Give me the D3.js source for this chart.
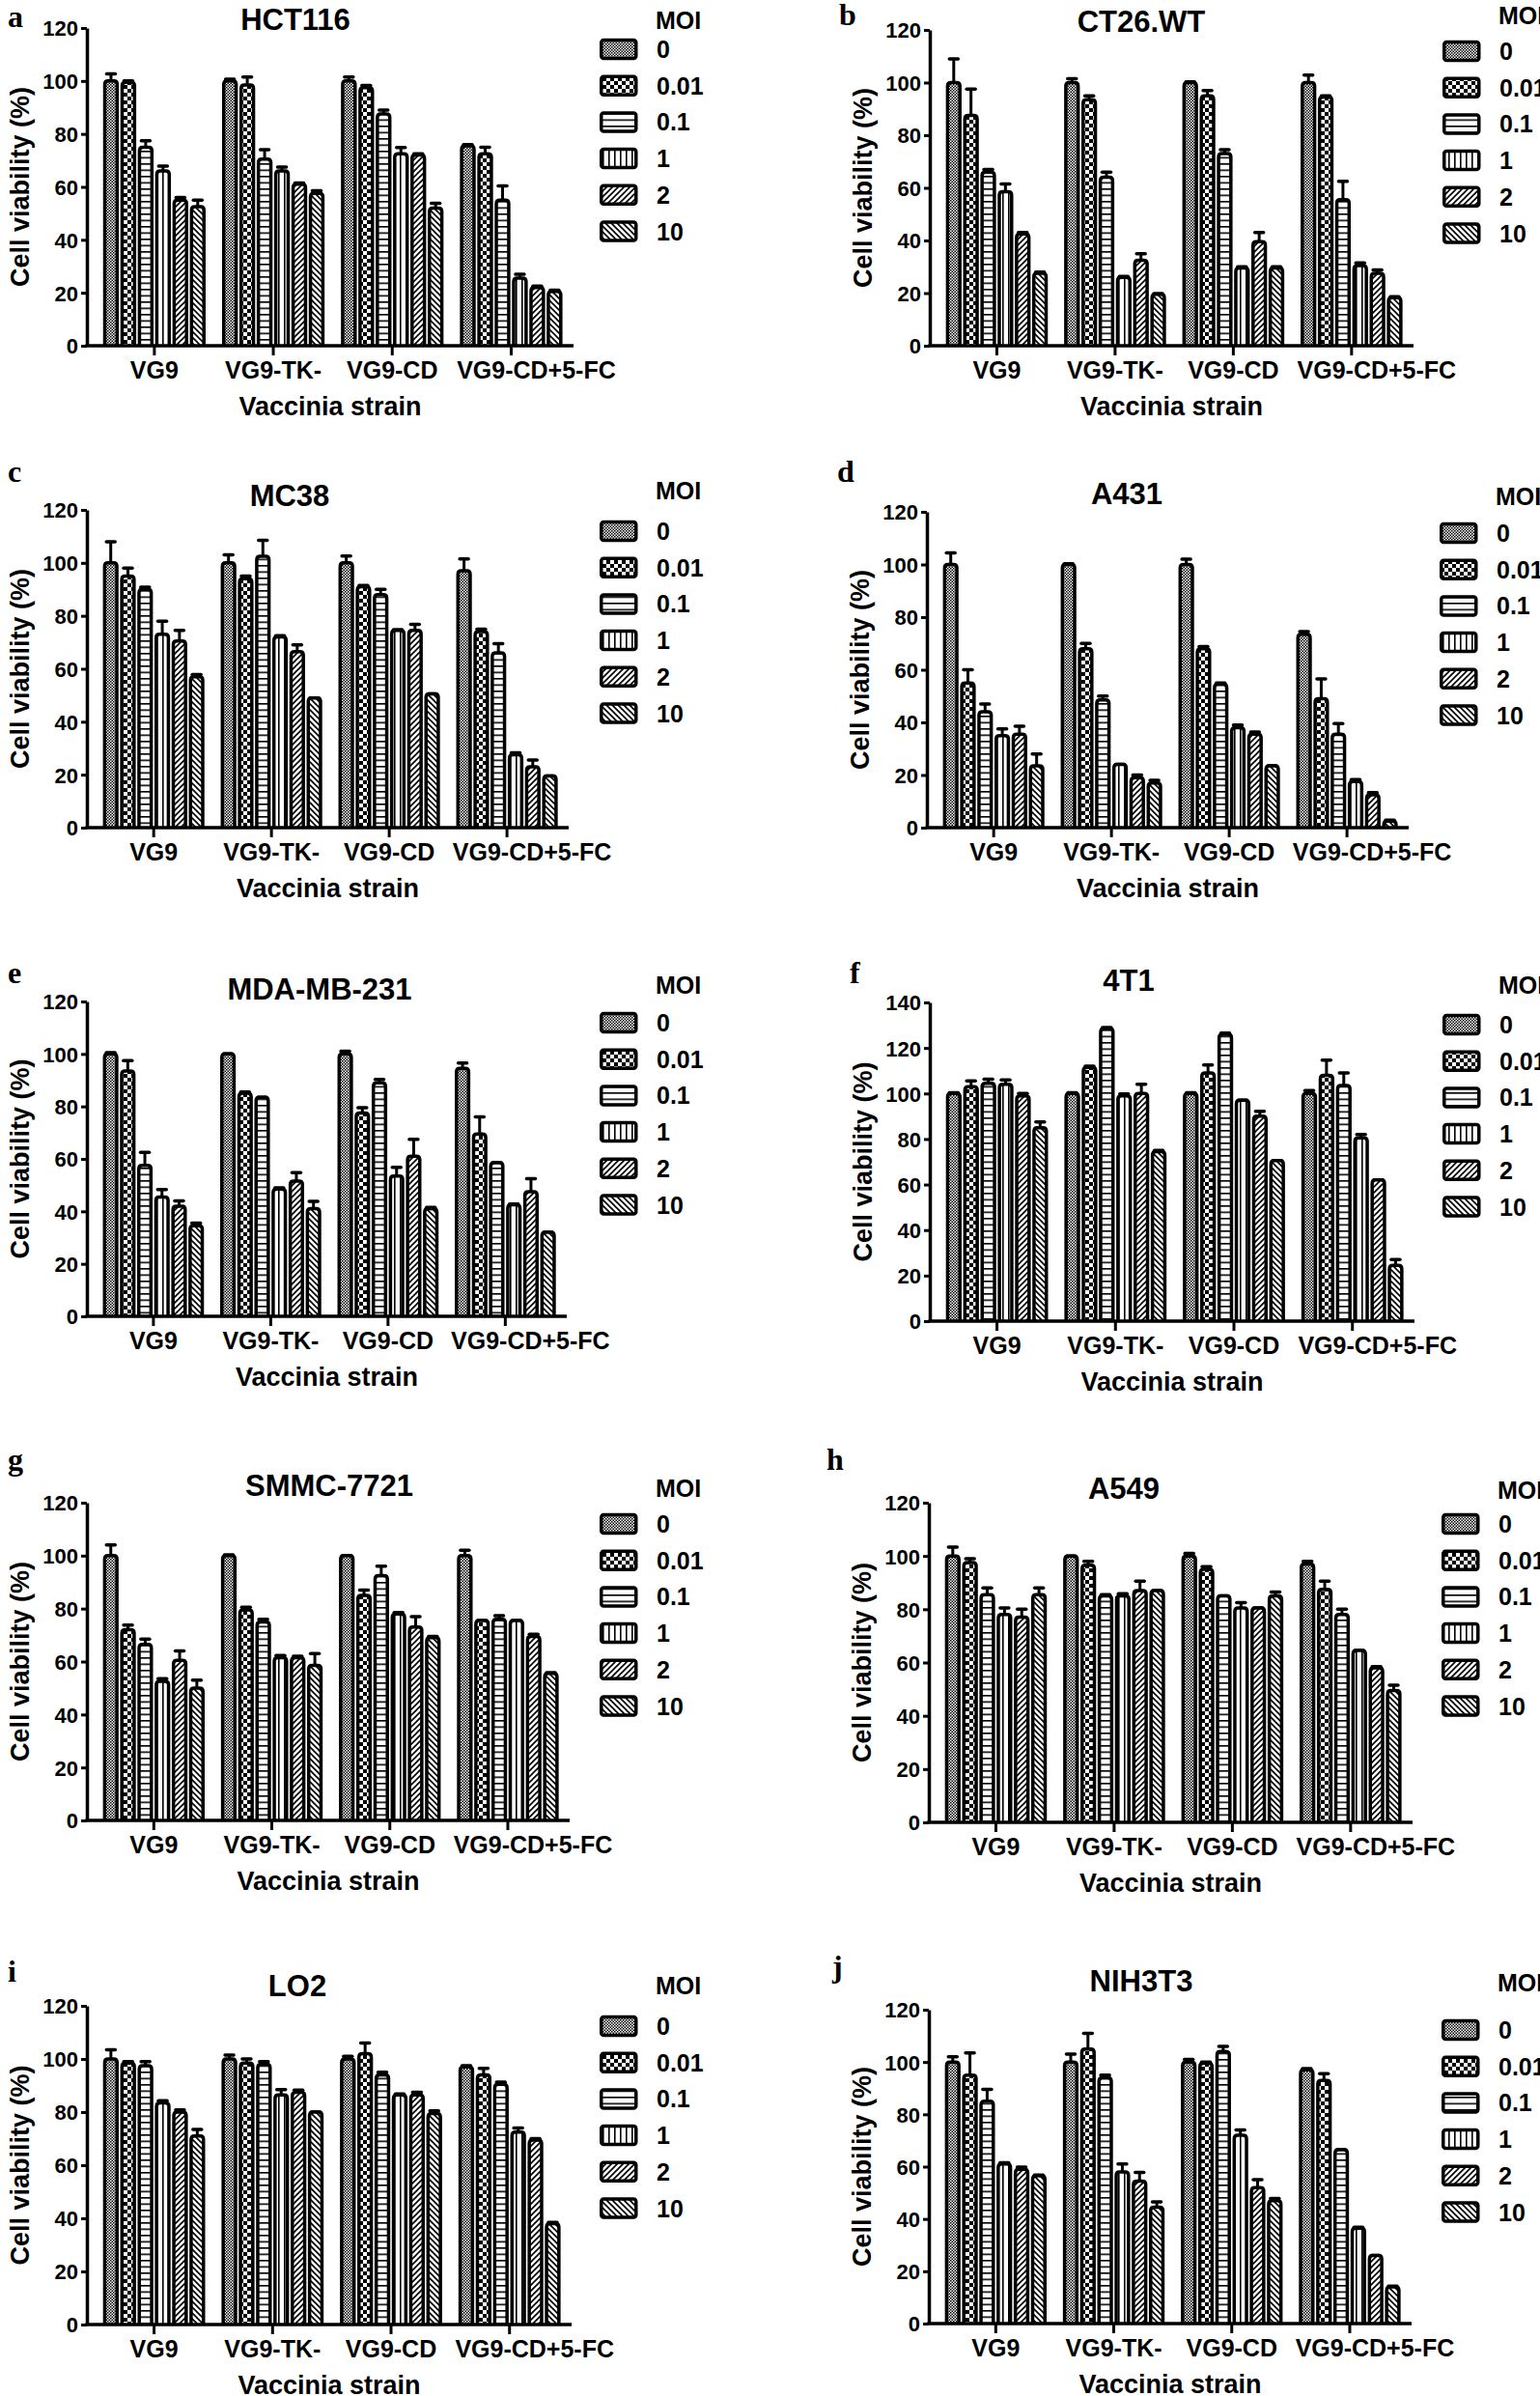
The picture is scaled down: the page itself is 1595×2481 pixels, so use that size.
<!DOCTYPE html>
<html><head><meta charset="utf-8">
<script src="https://cdn.jsdelivr.net/npm/d3@7/dist/d3.min.js"></script>
<style>
html,body{margin:0;padding:0;background:#fff;}
svg text{font-family:"Liberation Sans",Arial,sans-serif;font-weight:bold;fill:#000;}
</style></head>
<body>
<script>
// ---------- data ----------
const categories = ["VG9", "VG9-TK-", "VG9-CD", "VG9-CD+5-FC"];
const moiLevels = ["0", "0.01", "0.1", "1", "2", "10"];
const cellLines = ["HCT116", "CT26.WT", "MC38", "A431", "MDA-MB-231", "4T1", "SMMC-7721", "A549", "LO2", "NIH3T3"];
const panelLetters = ["a", "b", "c", "d", "e", "f", "g", "h", "i", "j"];
const yTicks120 = [0, 20, 40, 60, 80, 100, 120];
const yTicks140 = [0, 20, 40, 60, 80, 100, 120, 140];
const yTitle = "Cell viability (%)";
const xTitle = "Vaccinia strain";
const legendTitle = "MOI";

const hct116Mean = [[100,99.5,75,66,55,52.5],[100,98.5,70.5,66,61,57.5],[100,97.5,87.5,72.5,72,52],[75.5,72.5,55,25.5,22,20.5]];
const hct116Err  = [[2.7,0.5,2.4,1.8,1,2.5],[0.7,3,3.5,1.5,0.5,1],[1.5,0.8,1.5,2.4,0.5,1.8],[0.5,2.5,5.4,1.5,0.5,0.5]];
const ct26Mean = [[100,87.5,66,58.5,42.5,27.5],[100,93.5,64,26,32.5,19.5],[100,95,73,29.5,39.5,29.5],[100,94.5,55.5,30.5,27.5,18.3]];
const ct26Err  = [[9,10,1,3,0.5,0.5],[1.5,1.5,2,0.3,2.5,0.3],[0.3,2,1.5,0.5,3.5,0.5],[2.8,0.5,7,1,1.3,0.3]];
const mc38Mean = [[100,95,90,73,70.5,57],[100,94,102.5,72,66.5,49],[100,91,88,74.5,74.5,50.5],[97,74,66,27.5,23,19.5]];
const mc38Err  = [[8,3,0.8,5,4,0.8],[3,1,6,0.5,2.5,0],[2.6,0.5,2,0.3,2.3,0],[4.5,1,3.5,0.8,2.5,0]];
const a431Mean = [[100,55,44,35,35.5,23.5],[100,68,48.5,24,19,17],[100,68,54.5,38,35.5,23.5],[73.5,49,35.5,17.5,12.5,2.5]];
const a431Err  = [[4.4,5,3,2.5,3,4.5],[0.3,2,1.5,0,1,1],[2,0.8,0.5,1,0.8,0],[1,7.5,4,0.8,0.8,0.3]];
const mdaMean = [[100,93.5,57.5,45.5,42,34.5],[100,85,83.5,48.5,51.5,41],[100,77.5,89,53.5,61,41],[94.5,69.5,58.5,42.5,47.5,32]];
const mdaErr  = [[0.5,4,5,2.8,2,1],[0,0.5,0,0.5,3.3,2.8],[1,2,1.3,3.3,6.5,0.5],[2,6.5,0,0.3,5,0]];
const t41Mean = [[100,103,104.5,104,99,85],[100,111.5,128.5,99,100,74.5],[100,109,126,97,90,70.5],[100,108,103.5,80.5,62,24.5]];
const t41Err  = [[0.3,2.5,1.8,2,1,2.5],[0.3,0.5,0.5,0.8,4,0.5],[0.3,3.5,0.5,0,2.2,0],[1.3,6.7,5.5,1.5,0,2.5]];
const smmcMean = [[100,72,66.5,52.5,60.5,50],[100,79.5,75,61.5,61.5,58.5],[100,85,92.5,78,73,69],[100,75.5,76,75.5,69.5,55.5]];
const smmcErr  = [[4,1.8,2,1,3.5,3],[0.3,1,1,0.8,0.5,4.5],[0,2,3.5,0.5,4,0.5],[2,0,1.3,0,0.8,0.3]];
const a549Mean = [[100,97.5,85.5,78,77,85.5],[100,96.5,85,85,87,87],[100,95,85,80.5,80.5,85],[97,87.5,78,64.5,58,49.5]];
const a549Err  = [[3.3,1.5,2.5,2.5,3,2.5],[0,1.5,0.5,0.8,3.5,0],[1,1,0,2,0,1.5],[1,3,2,0,0.5,2]];
const lo2Mean = [[100,98.5,97.5,83.5,80,71],[100,98.5,98,86.5,87.5,80],[100,102,94,86.5,86.5,79.5],[97,94,90.5,72.5,69.5,38]];
const lo2Err  = [[3.5,0.5,1.5,0.8,0.8,2.5],[1.5,1.5,1,2,0.8,0],[1,4,1,0.3,1,1],[0.5,2.5,0.8,1.5,0.5,0.5]];
const nihMean = [[100,95,85,61,59,56.5],[100,105,94,58,54.5,44.5],[100,99.5,104,72,52,47],[97,93,66.5,36.5,26,14]];
const nihErr  = [[2,8.5,4.5,0.5,0.8,0.3],[3,6,1,3,3.3,2],[1,0.5,2,2,3,0.8],[0.5,2.5,0,0.3,0,0.3]];

const panelMeans = [hct116Mean, ct26Mean, mc38Mean, a431Mean, mdaMean, t41Mean, smmcMean, a549Mean, lo2Mean, nihMean];
const panelErrs  = [hct116Err, ct26Err, mc38Err, a431Err, mdaErr, t41Err, smmcErr, a549Err, lo2Err, nihErr];
const panelTicks = [yTicks120, yTicks120, yTicks120, yTicks120, yTicks120, yTicks140, yTicks120, yTicks120, yTicks120, yTicks120];

// ---------- layout (positions only) ----------
const layout = [
  {x0:90, x1:594, yTop:29,   yBot:358,  tx:306,  ty:31,   lx:8,   ly:28,   moiY:30,   row0:51},
  {x0:963,x1:1464,yTop:31,   yBot:358,  tx:1182, ty:33,   lx:869, ly:26,   moiY:25,   row0:53},
  {x0:90, x1:589, yTop:528,  yBot:857,  tx:300,  ty:524,  lx:8,   ly:499,  moiY:517,  row0:550},
  {x0:960,x1:1459,yTop:530,  yBot:857,  tx:1167, ty:522,  lx:867, ly:499,  moiY:523,  row0:552},
  {x0:90, x1:587, yTop:1037, yBot:1363, tx:331,  ty:1035, lx:8,   ly:1018, moiY:1029, row0:1059},
  {x0:963,x1:1465,yTop:1038, yBot:1368, tx:1169, ty:1026, lx:880, ly:1018, moiY:1029, row0:1061},
  {x0:90, x1:590, yTop:1556, yBot:1885, tx:341,  ty:1549, lx:8,   ly:1522, moiY:1550, row0:1578},
  {x0:962,x1:1463,yTop:1556, yBot:1887, tx:1164, ty:1552, lx:856, ly:1522, moiY:1552, row0:1578},
  {x0:90, x1:592, yTop:2077, yBot:2407, tx:308,  ty:2067, lx:8,   ly:2052, moiY:2065, row0:2098},
  {x0:962,x1:1462,yTop:2081, yBot:2406, tx:1182, ty:2062, lx:862, ly:2047, moiY:2062, row0:2102}
];
const lastLabelShift = 26;

const W = 1595, H = 2481;
const svg = d3.select("body").append("svg").attr("width", W).attr("height", H)
  .attr("viewBox", `0 0 ${W} ${H}`);
svg.append("rect").attr("width", W).attr("height", H).attr("fill", "#fff");

// ---------- patterns ----------
const defs = svg.append("defs");
function pat(id, w, h, draw) {
  const p = defs.append("pattern").attr("id", id).attr("patternUnits", "userSpaceOnUse")
    .attr("width", w).attr("height", h);
  p.append("rect").attr("width", w).attr("height", h).attr("fill", "#fff");
  draw(p);
}
pat("p0", 3, 3, p => {
  p.append("rect").attr("x",0).attr("y",0).attr("width",1.5).attr("height",1.5).attr("fill","#000");
  p.append("rect").attr("x",1.5).attr("y",1.5).attr("width",1.5).attr("height",1.5).attr("fill","#000");
});
pat("p1", 8, 8, p => {
  p.append("rect").attr("x",0).attr("y",0).attr("width",4).attr("height",4).attr("fill","#000");
  p.append("rect").attr("x",4).attr("y",4).attr("width",4).attr("height",4).attr("fill","#000");
});
pat("p2", 6, 6.5, p => {
  p.append("rect").attr("x",0).attr("y",0).attr("width",6).attr("height",1.6).attr("fill","#000");
});
pat("p3", 6, 6, p => {
  p.append("rect").attr("x",0).attr("y",0).attr("width",1.6).attr("height",6).attr("fill","#000");
});
pat("p4", 6, 6, p => {
  p.append("path").attr("d","M-1,7 L7,-1 M-4,4 L4,-4 M2,10 L10,2").attr("stroke","#000").attr("stroke-width",1.6);
});
pat("p5", 6, 6, p => {
  p.append("path").attr("d","M-1,-1 L7,7 M-4,2 L4,10 M2,-4 L10,4").attr("stroke","#000").attr("stroke-width",1.6);
});
const patIds = ["p0","p1","p2","p3","p4","p5"];

function barPath(x, w, yt, yb, r) {
  const p = d3.path();
  p.moveTo(x, yb);
  p.lineTo(x, yt + r);
  p.quadraticCurveTo(x, yt, x + r, yt);
  p.lineTo(x + w - r, yt);
  p.quadraticCurveTo(x + w, yt, x + w, yt + r);
  p.lineTo(x + w, yb);
  return p.toString();
}

// ---------- panels ----------
layout.forEach((L, pi) => {
  const g = svg.append("g");
  const ticks = panelTicks[pi];
  const yMax = ticks[ticks.length - 1];
  const y = d3.scaleLinear().domain([0, yMax]).range([L.yBot, L.yTop]);
  const x = d3.scaleBand().domain(categories).range([L.x0, L.x1])
    .paddingInner(0.125).paddingOuter(0.108).align(0.6);
  const xi = d3.scaleBand().domain(moiLevels).range([0, x.bandwidth()]).padding(0);
  const sw = 3.5;
  const bw = xi.bandwidth() - 1.6 - sw;

  const means = panelMeans[pi], errs = panelErrs[pi];
  const bars = [];
  categories.forEach((c, ci) => moiLevels.forEach((m, mi) => {
    bars.push({c, m, mi, v: means[ci][mi], e: errs[ci][mi]});
  }));

  // error bars (behind)
  const eg = g.append("g");
  bars.forEach(d => {
    const cx = x(d.c) + xi(d.m) + xi.bandwidth() / 2;
    const yt = y(d.v + d.e);
    eg.append("line").attr("x1", cx).attr("x2", cx).attr("y1", y(d.v)).attr("y2", yt)
      .attr("stroke", "#000").attr("stroke-width", 3);
    eg.append("line").attr("x1", cx - 4.5).attr("x2", cx + 4.5).attr("y1", yt).attr("y2", yt)
      .attr("stroke", "#000").attr("stroke-width", 3.5).attr("stroke-linecap", "round");
  });

  // bars
  g.append("g").selectAll("path").data(bars).join("path")
    .attr("d", d => {
      const bx = x(d.c) + xi(d.m) + (xi.bandwidth() - bw) / 2;
      return barPath(bx, bw, y(d.v), L.yBot, 3.5);
    })
    .attr("fill", d => `url(#${patIds[d.mi]})`)
    .attr("stroke", "#000").attr("stroke-width", sw).attr("stroke-linejoin", "round");

  // y axis
  const ya = g.append("g").attr("transform", `translate(${L.x0},0)`)
    .call(d3.axisLeft(y).tickValues(ticks).tickSize(6).tickPadding(3).tickSizeOuter(0));
  ya.select(".domain").attr("stroke-width", 3.5);
  ya.selectAll(".tick line").attr("stroke-width", 3);
  ya.selectAll(".tick text").attr("font-size", 22).attr("font-family", "Liberation Sans, Arial, sans-serif")
    .attr("font-weight", "bold").attr("dy", "0.36em");

  // x axis
  const xa = g.append("g").attr("transform", `translate(0,${L.yBot})`)
    .call(d3.axisBottom(x).tickSize(10).tickPadding(6).tickSizeOuter(0));
  xa.select(".domain").attr("stroke-width", 3.5).attr("d", `M${L.x0 - 1.5},0H${L.x1}`);
  xa.selectAll(".tick line").attr("stroke-width", 3);
  xa.selectAll(".tick text").attr("font-size", 25).attr("font-family", "Liberation Sans, Arial, sans-serif")
    .attr("font-weight", "bold")
    .attr("dx", (d, i) => i === categories.length - 1 ? lastLabelShift : 0);

  // titles
  g.append("text").attr("x", L.tx).attr("y", L.ty).attr("text-anchor", "middle")
    .attr("font-size", 31).text(cellLines[pi]);
  g.append("text").attr("x", (L.x0 + L.x1) / 2).attr("y", L.yBot + 72).attr("text-anchor", "middle")
    .attr("font-size", 27).text(xTitle);
  g.append("text").attr("transform", `translate(${L.x0 - 60},${(L.yTop + L.yBot) / 2}) rotate(-90)`)
    .attr("text-anchor", "middle").attr("font-size", 27).text(yTitle);
  g.append("text").attr("x", L.lx).attr("y", L.ly)
    .style("font-family", "'Liberation Serif','Times New Roman',serif").attr("font-size", 32)
    .text(panelLetters[pi]);

  // legend
  const legX = L.x0 + 531;
  g.append("text").attr("x", legX + 58).attr("y", L.moiY).attr("font-size", 25).text(legendTitle);
  moiLevels.forEach((m, mi) => {
    const cy = L.row0 + mi * 37.7;
    g.append("rect").attr("x", legX + 1.75).attr("y", cy - 9.5).attr("width", 36).attr("height", 19)
      .attr("rx", 2.5).attr("fill", `url(#${patIds[mi]})`).attr("stroke", "#000").attr("stroke-width", 3.5);
    g.append("text").attr("x", legX + 59).attr("y", cy + 9).attr("font-size", 25).text(m);
  });
});
</script>
</body></html>
